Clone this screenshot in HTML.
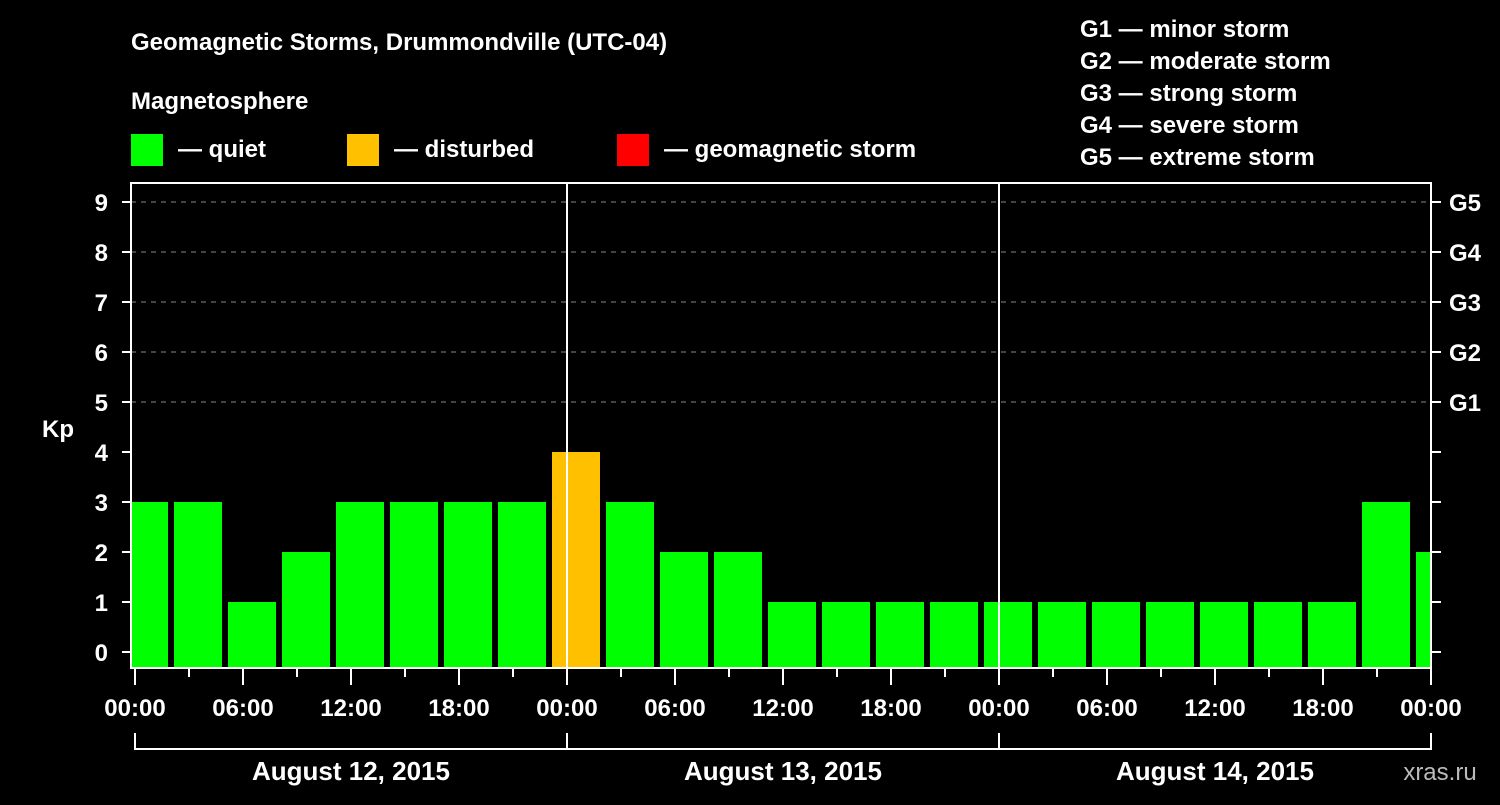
<!DOCTYPE html>
<html><head><meta charset="utf-8"><style>
body{margin:0;background:#000;width:1500px;height:800px;overflow:hidden}
svg text{font-family:"Liberation Sans",sans-serif;font-weight:bold;fill:#fff}
</style></head><body>
<svg width="1500" height="800">
<text x="131" y="50" font-size="24">Geomagnetic Storms, Drummondville (UTC-04)</text>
<text x="131" y="109" font-size="24">Magnetosphere</text>
<g>
<rect x="131" y="134" width="32" height="32" fill="#00ff00"/>
<text x="178" y="157" font-size="24">— quiet</text>
<rect x="347" y="134" width="32" height="32" fill="#ffc000"/>
<text x="394" y="157" font-size="24">— disturbed</text>
<rect x="617" y="134" width="32" height="32" fill="#ff0000"/>
<text x="664" y="157" font-size="24">— geomagnetic storm</text>
</g>
<g font-size="24">
<text x="1080" y="37">G1 — minor storm</text>
<text x="1080" y="69">G2 — moderate storm</text>
<text x="1080" y="101">G3 — strong storm</text>
<text x="1080" y="133">G4 — severe storm</text>
<text x="1080" y="165">G5 — extreme storm</text>
</g>
<text x="42" y="437" font-size="24">Kp</text>
<text x="1440" y="780" font-size="24" fill="#ccc" style="font-weight:normal;fill:#bbb" text-anchor="middle">xras.ru</text>
<defs><clipPath id="pc"><rect x="132" y="183" width="1299" height="485"/></clipPath></defs>
<g id="grid"></g>
<g id="bars" clip-path="url(#pc)"></g>
<g id="axes"></g>
</svg>
<script>
const kpValues=[3,3,1,2,3,3,3,3,4,3,2,2,1,1,1,1,1,1,1,1,1,1,1,3,2];
const yTicks=[0,1,2,3,4,5,6,7,8,9];
const gLabels=["G1","G2","G3","G4","G5"];
const xTickLabels=["00:00","06:00","12:00","18:00","00:00","06:00","12:00","18:00","00:00","06:00","12:00","18:00","00:00"];
const dayLabels=["August 12, 2015","August 13, 2015","August 14, 2015"];
const NS="http://www.w3.org/2000/svg";
const L=131,R=1431,T=183,B=668,X0=135,HPX=18;
const yS=v=>652-50*v;
const xS=h=>X0+h*HPX;
function mk(p,tag,a){const e=document.createElementNS(NS,tag);for(const k in a)e.setAttribute(k,a[k]);p.appendChild(e);return e;}
const grid=document.getElementById('grid'),bars=document.getElementById('bars'),axes=document.getElementById('axes');
yTicks.forEach(v=>{
 if(v>=5){const g=mk(grid,'line',{x1:L,x2:R,y1:yS(v),y2:yS(v),stroke:'#888','stroke-dasharray':'5,5','stroke-width':1});
 
 }
 const t=mk(axes,'line',{x1:122,x2:L,y1:yS(v),y2:yS(v),stroke:'#fff','stroke-width':2});
 
 
 mk(axes,'line',{x1:R,x2:1441,y1:yS(v),y2:yS(v),stroke:'#fff','stroke-width':2});
 const l=mk(axes,'text',{x:108,y:yS(v)+9,'font-size':24,'text-anchor':'end'});l.textContent=v;
 
 
});
gLabels.forEach((g,i)=>{const t=mk(axes,'text',{x:1449,y:yS(5+i)+9,'font-size':24});t.textContent=g;
 
 });
kpValues.forEach((v,i)=>{
 const c=xS(3*i+0.5);
 const col=v>=5?'#ff0000':(v>=4?'#ffc000':'#00ff00');
 const b=mk(bars,'rect',{x:c-24,y:yS(v),width:48,height:B-yS(v),fill:col});
 
 
});
mk(axes,'rect',{x:L,y:T,width:R-L,height:B-T,fill:'none',stroke:'#fff','stroke-width':2});
[24,48].forEach(h=>{const d=mk(axes,'line',{x1:xS(h),x2:xS(h),y1:T,y2:B,stroke:'#fff','stroke-width':2});
 
 });
for(let h=0;h<=72;h+=3){
 mk(axes,'line',{x1:xS(h),x2:xS(h),y1:B,y2:h%6==0?685:677,stroke:'#fff','stroke-width':2});
}
xTickLabels.forEach((s,i)=>{const t=mk(axes,'text',{x:xS(6*i),y:716,'font-size':24,'text-anchor':'middle'});t.textContent=s;
 
 });
mk(axes,'line',{x1:xS(0),x2:xS(72),y1:749,y2:749,stroke:'#fff','stroke-width':2});
for(let d=0;d<=3;d++)mk(axes,'line',{x1:xS(24*d),x2:xS(24*d),y1:733,y2:750,stroke:'#fff','stroke-width':2});
dayLabels.forEach((s,i)=>{const t=mk(axes,'text',{x:xS(24*i+12),y:780,'font-size':26,'text-anchor':'middle'});t.textContent=s;
 
 });
</script>
</body></html>
